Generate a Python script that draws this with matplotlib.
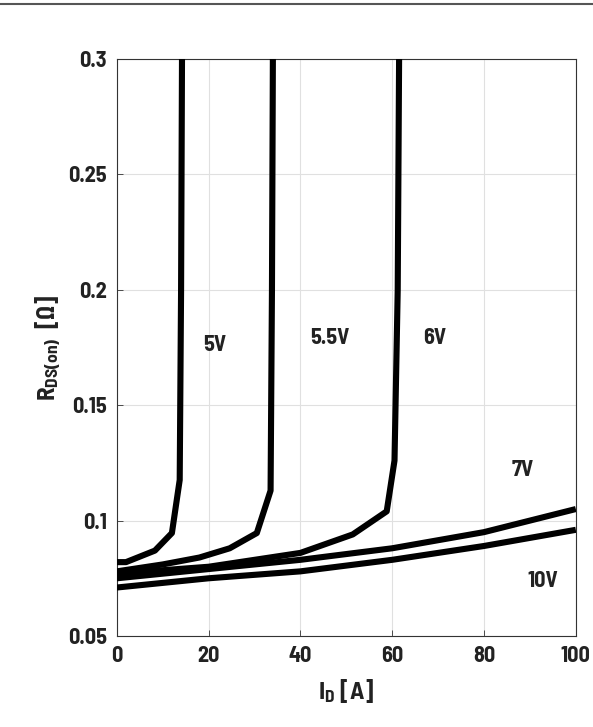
import matplotlib
matplotlib.use("Agg")
import matplotlib.pyplot as plt
from matplotlib.lines import Line2D

FONT = 'Barlow Semi Condensed'
plt.rcParams['font.family'] = [FONT, 'Liberation Sans', 'DejaVu Sans']
plt.rcParams['mathtext.fontset'] = 'custom'
plt.rcParams['mathtext.rm'] = FONT + ':bold'
plt.rcParams['mathtext.it'] = FONT + ':bold'
plt.rcParams['mathtext.bf'] = FONT + ':bold'
plt.rcParams['mathtext.fallback'] = 'stixsans'

# Data
id_5v = [0, 2, 8.3, 12.0, 13.7, 14.0, 14.2]
r_5v = [0.082, 0.082, 0.087, 0.0946, 0.1176, 0.2, 0.3]
id_55v = [0, 10, 18, 24.6, 30.5, 33.5, 33.8, 34.0]
r_55v = [0.078, 0.081, 0.084, 0.088, 0.0946, 0.113, 0.2, 0.3]
id_6v = [0, 20, 40, 51.4, 58.8, 60.5, 61.2, 61.5]
r_6v = [0.077, 0.080, 0.086, 0.094, 0.104, 0.126, 0.2, 0.3]
id_7v = [0, 20, 40, 60, 80, 100]
r_7v = [0.075, 0.079, 0.083, 0.088, 0.095, 0.105]
id_10v = [0, 20, 40, 60, 80, 100]
r_10v = [0.071, 0.075, 0.078, 0.083, 0.089, 0.096]

labels = ["5V", "5.5V", "6V", "7V", "10V"]
label_x = [21.3, 46.4, 69.3, 88.5, 92.8]
label_y = [0.176, 0.179, 0.179, 0.122, 0.074]

xticks = [0, 20, 40, 60, 80, 100]
yticks = [0.05, 0.1, 0.15, 0.2, 0.25, 0.3]
ytick_labels = ["0.05", "0.1", "0.15", "0.2", "0.25", "0.3"]

fig = plt.figure(figsize=(5.93, 7.27), dpi=100)
ax = fig.add_axes([0.197, 0.1252, 0.774, 0.7936])

for xs, ys in [(id_5v, r_5v), (id_55v, r_55v), (id_6v, r_6v), (id_7v, r_7v), (id_10v, r_10v)]:
    ax.plot(xs, ys, color='black', lw=4.4, solid_joinstyle='round', solid_capstyle='butt', zorder=3)

for t, x, y in zip(labels, label_x, label_y):
    ax.text(x, y, t, fontsize=16, fontweight='bold', ha='center', va='center', color='#222222')

ax.set_xlim(0, 100)
ax.set_ylim(0.05, 0.3)
ax.set_xticks(xticks)
ax.set_yticks(yticks)
ax.set_yticklabels(ytick_labels)
ax.grid(True, color='#e0e0e0', lw=0.8)
ax.set_axisbelow(True)
ax.tick_params(direction='in', length=4, width=0.6, colors='#333333', labelsize=16,
               labelcolor='#222222', pad=7)
for lab in ax.get_xticklabels() + ax.get_yticklabels():
    lab.set_fontweight('bold')
for s in ax.spines.values():
    s.set_color('#333333')
    s.set_linewidth(0.8)

ax.set_xlabel(r'I$_\mathregular{D}$ [A]', fontsize=18, fontweight='bold', color='#222222', labelpad=8)
ax.set_ylabel(r'R$_\mathregular{DS(on)}$  [$\Omega$]', fontsize=18, fontweight='bold', color='#222222', labelpad=3)

fig.add_artist(Line2D([0, 1], [0.994, 0.994], transform=fig.transFigure, color='#555555', lw=1.5))

fig.savefig('out.png', dpi=100)
